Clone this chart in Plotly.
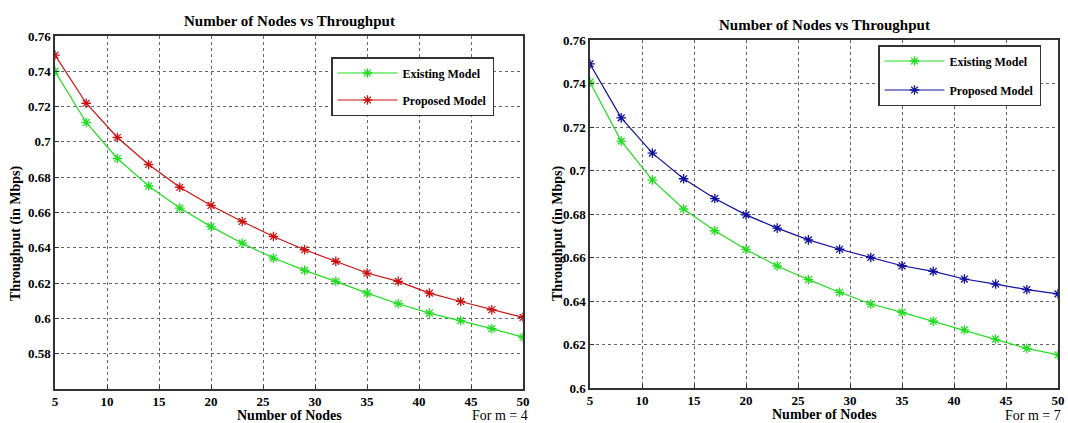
import plotly.graph_objects as go

nodes = [5, 8, 11, 14, 17, 20, 23, 26, 29, 32, 35, 38, 41, 44, 47, 50]

existing_m4 = [0.740, 0.711, 0.6906, 0.675, 0.6625, 0.652, 0.6426, 0.6342, 0.6272, 0.621,
               0.6143, 0.6083, 0.603, 0.5987, 0.5942, 0.5894]
proposed_m4 = [0.7492, 0.7219, 0.7025, 0.6872, 0.6743, 0.664, 0.6549, 0.6464, 0.6389, 0.6323,
               0.6257, 0.621, 0.6143, 0.6096, 0.6049, 0.6006]

existing_m7 = [0.7406, 0.7135, 0.6956, 0.6823, 0.6723, 0.6637, 0.6561, 0.6498, 0.644, 0.6386,
               0.6348, 0.6307, 0.6267, 0.6225, 0.6182, 0.6152]
proposed_m7 = [0.749, 0.7242, 0.708, 0.6962, 0.6871, 0.6796, 0.6735, 0.6681, 0.6638, 0.660,
               0.6562, 0.6536, 0.6501, 0.6478, 0.6452, 0.6433]

x_ticks = [5, 10, 15, 20, 25, 30, 35, 40, 45, 50]
y_ticks_left = [0.58, 0.6, 0.62, 0.64, 0.66, 0.68, 0.7, 0.72, 0.74, 0.76]
y_ticks_right = [0.6, 0.62, 0.64, 0.66, 0.68, 0.7, 0.72, 0.74, 0.76]
y_labels_left = ["0.58", "0.6", "0.62", "0.64", "0.66", "0.68", "0.7", "0.72", "0.74", "0.76"]
y_labels_right = ["0.6", "0.62", "0.64", "0.66", "0.68", "0.7", "0.72", "0.74", "0.76"]

title_text = "Number of Nodes vs Throughput"
xlabel = "Number of Nodes"
ylabel = "Throughput (in Mbps)"

SERIF = "Liberation Serif"
GREEN = "#22dd22"
RED = "#cc1111"
BLUE = "#1010a0"

W, H = 1068, 423

fig = go.Figure()

def add(x, y, name, color, xa, ya, legend, group):
    fig.add_trace(go.Scatter(
        x=x, y=y, name=name, mode="lines+markers",
        line=dict(color=color, width=1.2),
        marker=dict(symbol="asterisk-open", size=8, color=color, line=dict(color=color, width=1.3)),
        xaxis=xa, yaxis=ya, legend=legend, legendgroup=group,
    ))

add(nodes, existing_m4, "Existing Model", GREEN, "x", "y", "legend", "l1")
add(nodes, proposed_m4, "Proposed Model", RED, "x", "y", "legend", "l2")
add(nodes, existing_m7, "Existing Model", GREEN, "x2", "y2", "legend2", "r1")
add(nodes, proposed_m7, "Proposed Model", BLUE, "x2", "y2", "legend2", "r2")

tickfont = dict(family=SERIF, size=13, color="black", weight="bold")

def xaxis(domain, anchor):
    return dict(domain=domain, anchor=anchor, range=[5, 50], tickvals=x_ticks,
                showline=True, linecolor="#333", linewidth=1.5, mirror=True,
                ticks="inside", ticklen=4, tickcolor="#333",
                showgrid=True, gridcolor="#666", griddash="dot", gridwidth=1,
                zeroline=False, tickfont=tickfont, automargin=False)

def yaxis(domain, anchor, rng, tv, tt):
    return dict(domain=domain, anchor=anchor, range=rng, tickvals=tv, ticktext=tt,
                showline=True, linecolor="#333", linewidth=1.5, mirror=True,
                ticks="inside", ticklen=4, tickcolor="#333",
                showgrid=True, gridcolor="#666", griddash="dot", gridwidth=1,
                zeroline=False, tickfont=tickfont, automargin=False)

xl = [55 / W, 523 / W]
xr = [590 / W, 1058 / W]
yl = [1 - 389 / H, 1 - 36 / H]
yr = [1 - 388 / H, 1 - 40 / H]

legfont = dict(family=SERIF, size=12, color="black", weight="bold")

fig.update_layout(
    template="none",
    width=W, height=H,
    margin=dict(l=0, r=0, t=0, b=0, autoexpand=False),
    paper_bgcolor="white", plot_bgcolor="white",
    font=dict(family=SERIF, color="black"),
    xaxis=xaxis(xl, "y"),
    yaxis=yaxis(yl, "x", [0.56, 0.76], y_ticks_left, y_labels_left),
    xaxis2=xaxis(xr, "y2"),
    yaxis2=yaxis(yr, "x2", [0.6, 0.76], y_ticks_right, y_labels_right),
    legend=dict(x=331 / W, y=1 - 57 / H, xanchor="left", yanchor="top",
                bgcolor="white", bordercolor="#333", borderwidth=1.5,
                font=legfont, itemwidth=60, tracegroupgap=8),
    legend2=dict(x=878 / W, y=1 - 45 / H, xanchor="left", yanchor="top",
                 bgcolor="white", bordercolor="#333", borderwidth=1.5,
                 font=legfont, itemwidth=60, tracegroupgap=10),
    showlegend=True,
)

def ann(x, y, text, size=13, bold=True, angle=0, xanchor="center"):
    fig.add_annotation(x=x / W, y=1 - y / H, xref="paper", yref="paper", text=text,
                       showarrow=False, textangle=angle, xanchor=xanchor, yanchor="middle",
                       font=dict(family=SERIF, size=size, color="black",
                                 weight="bold" if bold else "normal"))

ann(289, 21, title_text, 15)
ann(824, 25, title_text, 15)
ann(289, 415, xlabel, 14)
ann(824, 414, xlabel, 14)
ann(16, 234, ylabel, 14, angle=-90)
ann(558, 234, ylabel, 14, angle=-90)
ann(470, 415, "For m = 4", 14, bold=False, xanchor="left")
ann(1003, 415, "For m = 7", 14, bold=False, xanchor="left")

fig.write_html("out.html")
